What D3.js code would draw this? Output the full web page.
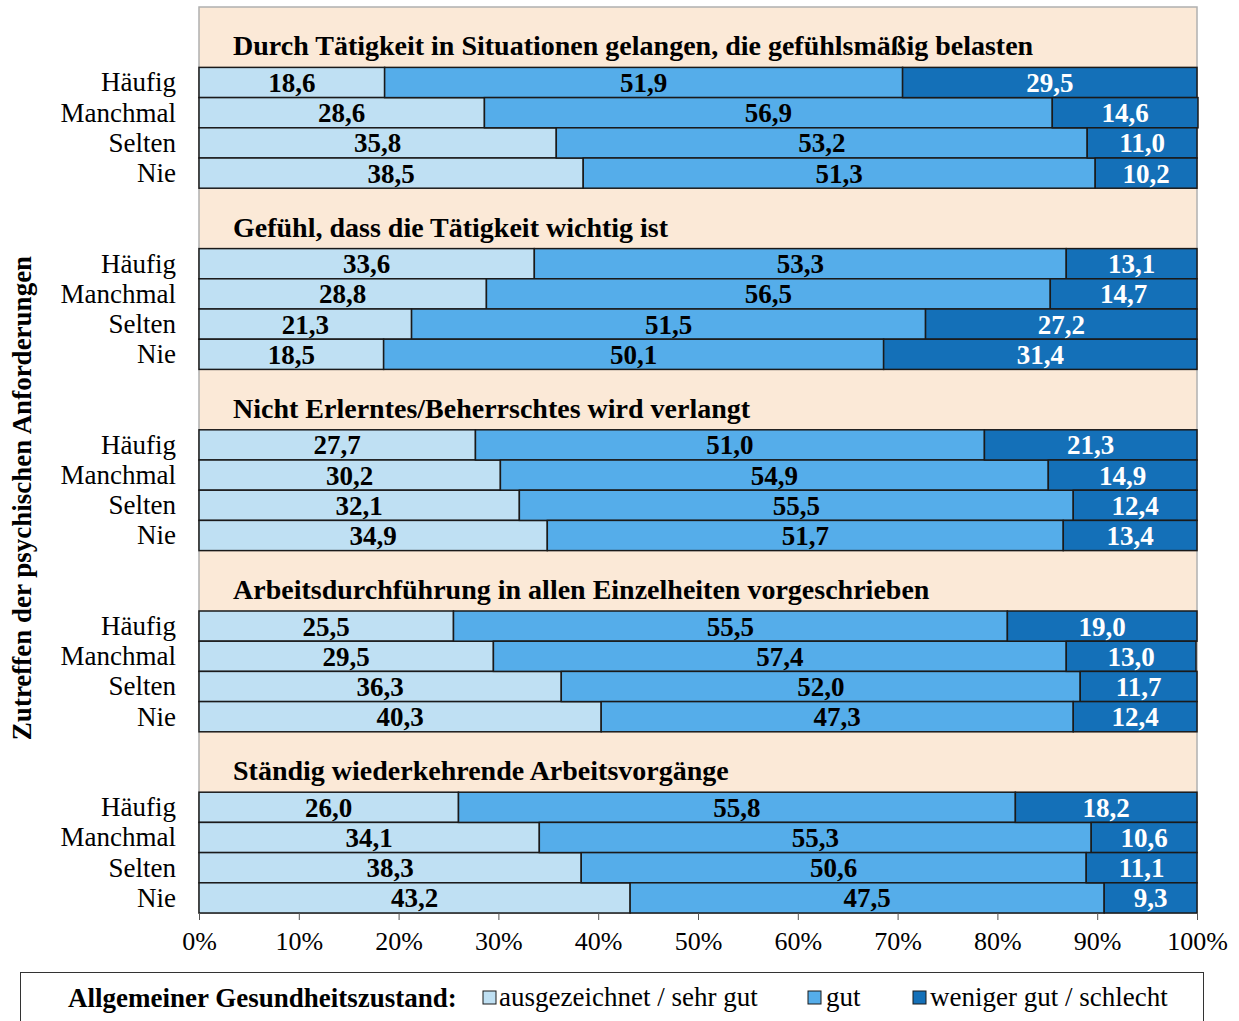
<!DOCTYPE html>
<html>
<head>
<meta charset="utf-8">
<script src="https://cdn.jsdelivr.net/npm/d3@7"></script>
<style>
  body { margin: 0; background: #fff; }
  svg text { font-family: "Liberation Serif", "Times New Roman", serif; }
</style>
</head>
<body>
<div id="chart"></div>
<script>
const groups = [
  "Durch Tätigkeit in Situationen gelangen, die gefühlsmäßig belasten",
  "Gefühl, dass die Tätigkeit wichtig ist",
  "Nicht Erlerntes/Beherrschtes wird verlangt",
  "Arbeitsdurchführung in allen Einzelheiten vorgeschrieben",
  "Ständig wiederkehrende Arbeitsvorgänge"
]
const levels = ["Häufig", "Manchmal", "Selten", "Nie"]
const seriesNames = ["ausgezeichnet / sehr gut", "gut", "weniger gut / schlecht"]

// values per group, in order Häufig, Manchmal, Selten, Nie
const excellent = [18.6, 28.6, 35.8, 38.5, 33.6, 28.8, 21.3, 18.5, 27.7, 30.2, 32.1, 34.9, 25.5, 29.5, 36.3, 40.3, 26.0, 34.1, 38.3, 43.2]
const good      = [51.9, 56.9, 53.2, 51.3, 53.3, 56.5, 51.5, 50.1, 51.0, 54.9, 55.5, 51.7, 55.5, 57.4, 52.0, 47.3, 55.8, 55.3, 50.6, 47.5]
const poor      = [29.5, 14.6, 11.0, 10.2, 13.1, 14.7, 27.2, 31.4, 21.3, 14.9, 12.4, 13.4, 19.0, 13.0, 11.7, 12.4, 18.2, 10.6, 11.1, 9.3]
const xTicks = [0, 10, 20, 30, 40, 50, 60, 70, 80, 90, 100]

const colors = ["#bfe0f3", "#55adea", "#1470b8"]
const labelColors = ["#000", "#000", "#fff"]

const width = 1239, height = 1021
const plot = {left: 199, right: 1197, top: 7, bottom: 913}

const svg = d3.select('#chart').append('svg')
  .attr('width', width)
  .attr('height', height)

// each group: 2 rows for the title, 4 rows of bars
const rowsPerGroup = 6
const rows = d3.range(groups.length * rowsPerGroup)

const x = d3.scaleLinear().domain([0, 100]).range([plot.left, plot.right])
const y = d3.scaleBand().domain(rows).range([plot.top, plot.bottom]).padding(0)

const rowOf = (g, l) => g * rowsPerGroup + 2 + l

// build table
const table = []
groups.forEach((g, gi) => {
  levels.forEach((lv, li) => {
    const i = gi * levels.length + li
    table.push({group: gi, level: lv, row: rowOf(gi, li), values: [excellent[i], good[i], poor[i]]})
  })
})
const stacked = d3.stack().keys([0, 1, 2]).value((d, k) => d.values[k])(table)

// plot background
svg.append('rect')
  .attr('x', plot.left)
  .attr('y', plot.top)
  .attr('width', plot.right - plot.left)
  .attr('height', plot.bottom - plot.top)
  .attr('fill', '#fbe9d7')
  .attr('stroke', '#b0b0b0')
  .attr('stroke-width', 1.5)

// group titles
svg.append('g').selectAll('text')
  .data(groups)
  .join('text')
  .attr('x', 233)
  .attr('y', (d, i) => y(i * rowsPerGroup + 1) + y.bandwidth() / 2 + 3)
  .attr('font-size', 28)
  .attr('font-weight', 'bold')
  .text(d => d)

// bars
const layers = svg.append('g').selectAll('g')
  .data(stacked)
  .join('g')
  .attr('fill', (d, i) => colors[i])

layers.selectAll('rect')
  .data(d => d)
  .join('rect')
  .attr('x', d => x(d[0]))
  .attr('y', d => y(d.data.row))
  .attr('width', d => x(d[1]) - x(d[0]))
  .attr('height', y.bandwidth())
  .attr('stroke', '#1a1a1a')
  .attr('stroke-width', 1.5)

// value labels
const fmt = v => v.toFixed(1).replace('.', ',')
stacked.forEach((layer, k) => {
  svg.append('g').selectAll('text')
    .data(layer)
    .join('text')
    .attr('x', d => (x(d[0]) + x(d[1])) / 2)
    .attr('y', d => y(d.data.row) + y.bandwidth() / 2)
    .attr('dy', '0.35em')
    .attr('text-anchor', 'middle')
    .attr('font-size', 27)
    .attr('font-weight', 'bold')
    .attr('fill', labelColors[k])
    .text(d => fmt(d.data.values[k]))
})

// category labels
svg.append('g').selectAll('text')
  .data(table)
  .join('text')
  .attr('x', 176)
  .attr('y', d => y(d.row) + y.bandwidth() / 2)
  .attr('dy', '0.33em')
  .attr('text-anchor', 'end')
  .attr('font-size', 27)
  .text(d => d.level)

// x axis
const xAxis = svg.append('g')
  .attr('transform', `translate(0, ${plot.bottom})`)
  .call(d3.axisBottom(x).tickValues(xTicks).tickFormat(d => d + '%').tickSize(7).tickPadding(12))
xAxis.select('.domain').remove()
xAxis.selectAll('.tick line').attr('stroke', '#555')
xAxis.selectAll('.tick text')
  .attr('font-size', 26)
  .attr('font-family', '"Liberation Serif", serif')
  .attr('fill', '#000')

// y axis title
svg.append('text')
  .attr('transform', `translate(31, 498) rotate(-90)`)
  .attr('text-anchor', 'middle')
  .attr('font-size', 27)
  .attr('font-weight', 'bold')
  .text('Zutreffen der psychischen Anforderungen')

// legend
const legend = svg.append('g')
legend.append('rect')
  .attr('x', 20.5)
  .attr('y', 972.5)
  .attr('width', 1183)
  .attr('height', 70)
  .attr('fill', '#fff')
  .attr('stroke', '#333')
  .attr('stroke-width', 1)
legend.append('text')
  .attr('x', 68)
  .attr('y', 1007)
  .attr('font-size', 27)
  .attr('font-weight', 'bold')
  .text('Allgemeiner Gesundheitszustand:')

const legendX = [483, 808, 913]
const legendGap = [16, 18, 17]
const items = legend.selectAll('g.item')
  .data(seriesNames)
  .join('g')
  .attr('class', 'item')
  .attr('transform', (d, i) => `translate(${legendX[i]}, 0)`)
items.append('rect')
  .attr('x', 0)
  .attr('y', 991)
  .attr('width', 13)
  .attr('height', 13)
  .attr('fill', (d, i) => colors[i])
  .attr('stroke', '#1a1a1a')
  .attr('stroke-width', 1)
items.append('text')
  .attr('x', (d, i) => legendGap[i])
  .attr('y', 1006)
  .attr('font-size', 27)
  .text(d => d)
</script>
</body>
</html>
